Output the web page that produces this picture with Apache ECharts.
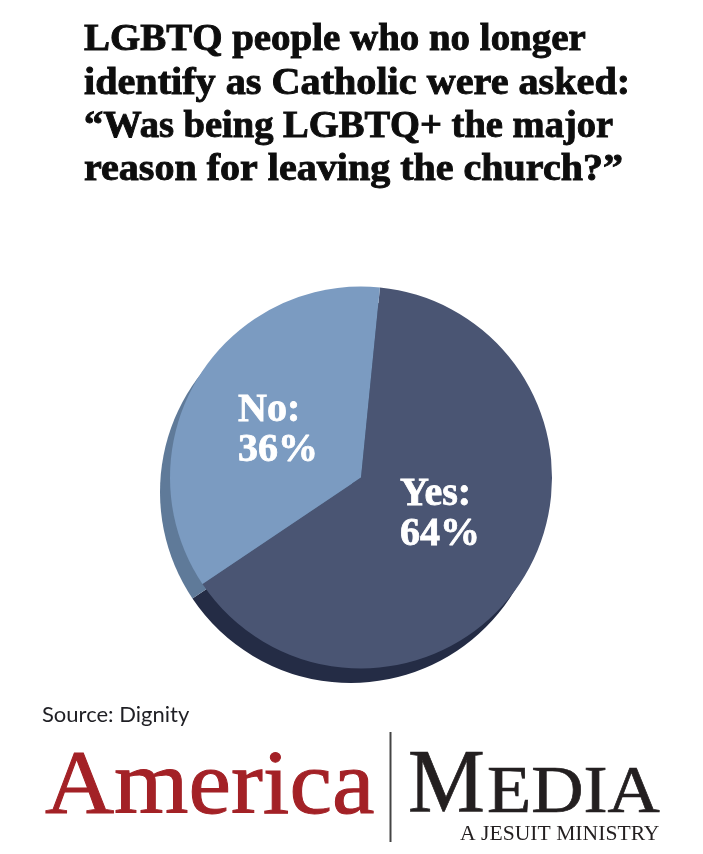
<!DOCTYPE html>
<html>
<head>
<meta charset="utf-8">
<style>
  html, body { margin: 0; padding: 0; background: #fff; }
  #chart { width: 703px; height: 854px; }
</style>
<script src="https://cdn.jsdelivr.net/npm/echarts@6/dist/echarts.min.js"></script>
</head>
<body>
<div id="chart"></div>
<script>
const categories = ['Yes', 'No']
const values = [64, 36]
const faceColors = ['#4a5573', '#7b9bc1']
const edgeColors = ['#242c45', '#5f7a99']
const titleLines = [
  'LGBTQ people who no longer',
  'identify as Catholic were asked:',
  '“Was being LGBTQ+ the major',
  'reason for leaving the church?”'
]
const titleStretch = [1.052, 1.086, 1.041, 1.082]
const sourceText = 'Source: Dignity'

const startAngle = 84.3
const serif = '"Liberation Serif", serif'

// text drawn from its top edge, stretched sideways to the logo's proportions
function textEl(text, x, y, font, fill, scaleX, stroke) {
  return {
    type: 'text',
    x,
    y,
    scaleX: scaleX || 1,
    style: {
      text,
      font,
      fill,
      stroke: stroke ? fill : null,
      lineWidth: stroke || 0,
      textVerticalAlign: 'top'
    }
  }
}

function titleGraphic() {
  return titleLines.map((line, i) =>
    textEl(line, 84, 22.4 + i * 43.3, '700 37px ' + serif, '#0d0d0d', titleStretch[i], 0.9))
}

function pieData(colors) {
  return categories.map((name, i) => ({
    name,
    value: values[i],
    itemStyle: { color: colors[i] }
  }))
}

const chart = echarts.init(document.getElementById('chart'))

chart.setOption({
  backgroundColor: '#fff',
  animation: false,
  series: [
    {
      // dark rim peeking out at lower left
      type: 'pie',
      silent: true,
      z: 1,
      center: [351, 492],
      radius: [0, 191],
      startAngle,
      data: pieData(edgeColors),
      label: { show: false },
      labelLine: { show: false }
    },
    {
      type: 'pie',
      silent: true,
      z: 2,
      center: [361, 477.5],
      radius: [0, 191],
      startAngle,
      data: pieData(faceColors),
      label: {
        show: true,
        position: 'inside',
        formatter: '{b}:\n{c}%',
        color: '#fff',
        textBorderColor: '#fff',
        textBorderWidth: 0.8,
        fontFamily: serif,
        fontWeight: 700,
        fontSize: 40,
        lineHeight: 40
      },
      labelLine: { show: false },
      labelLayout: params => ({
        x: params.dataIndex === 0 ? 400 : 238,
        y: params.dataIndex === 0 ? 475 : 391,
        align: 'left',
        verticalAlign: 'top'
      })
    }
  ],
  graphic: [
    ...titleGraphic(),
    textEl(sourceText, 42, 704, '400 22px Lato, sans-serif', '#1f1f24', 1),
    textEl('America', 45, 743, '400 92px ' + serif, '#a32126', 1.04, 1),
    {
      type: 'rect',
      shape: { x: 389.5, y: 732, width: 2, height: 110 },
      style: { fill: '#444' }
    },
    textEl('M', 408, 743, '400 90px ' + serif, '#231f20', 0.96, 0.7),
    textEl('EDIA', 487, 761, '400 67px ' + serif, '#231f20', 1.08, 0.7),
    textEl('A JESUIT MINISTRY', 460, 824, '400 21px ' + serif, '#231f20', 1.03)
  ]
})
</script>
</body>
</html>
